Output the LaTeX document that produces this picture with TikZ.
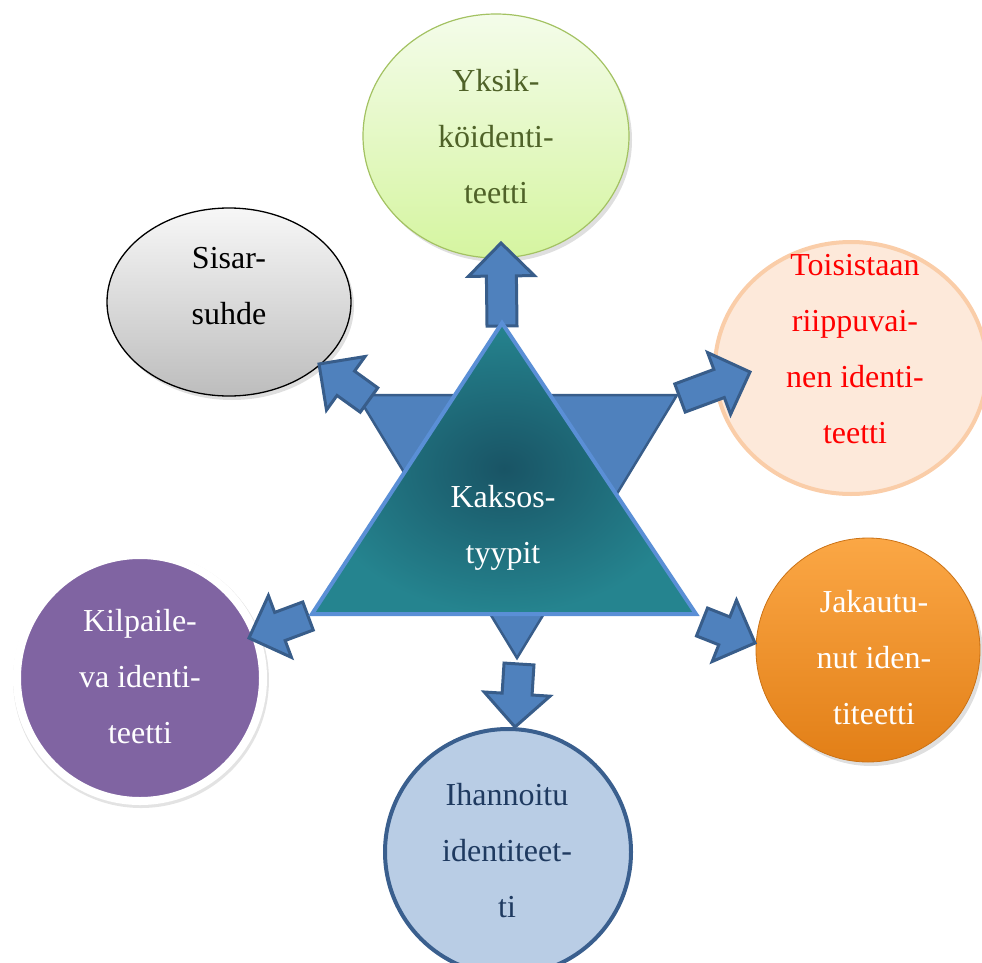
\documentclass[tikz,border=0pt]{standalone}
\usepackage{fontspec}
\setmainfont{Liberation Serif}
\usetikzlibrary{calc,shapes.geometric,shadows}
\definecolor{ykA}{HTML}{F4FCEA}
\definecolor{ykB}{HTML}{D5F5A0}
\definecolor{ykBorder}{HTML}{A3C262}
\definecolor{ykText}{HTML}{4F6228}
\definecolor{grA}{HTML}{F7F7F7}
\definecolor{grB}{HTML}{BDBDBD}
\definecolor{peFill}{HTML}{FDE9DA}
\definecolor{peBorder}{HTML}{FACDA8}
\definecolor{orA}{HTML}{FBA745}
\definecolor{orB}{HTML}{E27F17}
\definecolor{blFill}{HTML}{B9CDE5}
\definecolor{blBorder}{HTML}{3A5F8E}
\definecolor{blText}{HTML}{1F3A60}
\definecolor{puFill}{HTML}{8064A2}
\definecolor{arFill}{HTML}{4F81BD}
\definecolor{arBorder}{HTML}{385D8A}
\definecolor{tealIn}{HTML}{195465}
\definecolor{tealOut}{HTML}{25848F}
\definecolor{triBorder}{HTML}{5A8FD6}
\tikzset{
  txt/.style={align=center, inner sep=0pt, font=\fontsize{32}{56}\selectfont},
  barrow/.style={fill=arFill, draw=arBorder, line width=3pt, line join=miter},
  softshadow/.style={drop shadow={opacity=0.25, shadow xshift=3pt, shadow yshift=-4pt}}
}
\newcommand\blockarrow[2]{%
  \coordinate (#1-hb) at ($(#2)!33pt!(#1)$);
  \draw[barrow] ($(#1)!15pt!90:(#2)$) -- ($(#1-hb)!15pt!90:(#2)$) -- ($(#1-hb)!33pt!90:(#2)$)
    -- (#2) -- ($(#1-hb)!33pt!-90:(#2)$) -- ($(#1-hb)!15pt!-90:(#2)$) -- ($(#1)!15pt!-90:(#2)$) -- cycle;}
\begin{document}
\begin{tikzpicture}[x=1pt,y=-1pt]
\useasboundingbox (0,0) rectangle (982,963);
\clip (0,0) rectangle (982,963);

% outer shapes
\node[ellipse, minimum width=266pt, minimum height=244pt, inner sep=0pt,
  top color=ykA, bottom color=ykB, draw=ykBorder, line width=1.2pt, softshadow] (yksik) at (496,136) {};
\node[ellipse, minimum width=244pt, minimum height=188pt, inner sep=0pt,
  top color=grA, bottom color=grB, draw=black, line width=1.3pt, softshadow] (sisar) at (229,302) {};
\node[ellipse, minimum width=272pt, minimum height=252pt, inner sep=0pt,
  fill=peFill, draw=peBorder, line width=4pt] (toisistaan) at (851,368) {};
\node[circle, minimum size=224pt, inner sep=0pt,
  top color=orA, bottom color=orB, draw=orB!90!black, line width=0.8pt, softshadow] (jakautunut) at (868,650) {};
\node[circle, minimum size=246pt, inner sep=0pt,
  fill=blFill, draw=blBorder, line width=4pt] (ihannoitu) at (508,852) {};
\node[circle, minimum size=246pt, inner sep=0pt,
  fill=puFill, draw=white, line width=8pt,
  drop shadow={opacity=0.22, shadow xshift=1pt, shadow yshift=-2pt, shadow scale=1.04}] (kilpaile) at (140,678) {};

% texts
\node[txt, text=ykText] (yksik-t) at (496,137) {Yksik-\\köidenti-\\teetti};
\node[txt, text=black] (sisar-t) at (229,286) {Sisar-\\suhde};
\node[txt, text=red] (toisistaan-t) at (855,349) {Toisistaan\\riippuvai-\\nen identi-\\teetti};
\node[txt, text=white] (jakautunut-t) at (874,658) {Jakautu-\\nut iden-\\titeetti};
\node[txt, text=blText] (ihannoitu-t) at (507,851) {Ihannoitu\\identiteet-\\ti};
\node[txt, text=white] (kilpaile-t) at (140,677) {Kilpaile-\\va identi-\\teetti};

% downward triangle
\coordinate (d1) at (357,395);
\coordinate (d2) at (677,395);
\coordinate (d3) at (517,658);
\draw[fill=arFill, draw=arBorder, line width=2.5pt] (d1) -- (d2) -- (d3) -- cycle;

% block arrows (tail, tip)
\coordinate (aY) at (502,326); \coordinate (bY) at (501,243);
\coordinate (aS) at (369,400); \coordinate (bS) at (319,364);
\coordinate (aT) at (680,398); \coordinate (bT) at (750,372);
\coordinate (aK) at (308,616); \coordinate (bK) at (249,638);
\coordinate (aI) at (519,664); \coordinate (bI) at (515,727);
\coordinate (aJ) at (702,622); \coordinate (bJ) at (755,643);
\blockarrow{aY}{bY}
\blockarrow{aS}{bS}
\blockarrow{aT}{bT}
\blockarrow{aK}{bK}
\blockarrow{aI}{bI}
\blockarrow{aJ}{bJ}

% upward triangle
\coordinate (u1) at (502,323);
\coordinate (u2) at (696,614);
\coordinate (u3) at (312,614);
\draw[inner color=tealIn, outer color=tealOut, draw=triBorder, line width=4pt] (u1) -- (u2) -- (u3) -- cycle;
\node[txt, text=white] (kaksos-t) at (503,528) {Kaksos-\\tyypit};
\end{tikzpicture}
\end{document}
